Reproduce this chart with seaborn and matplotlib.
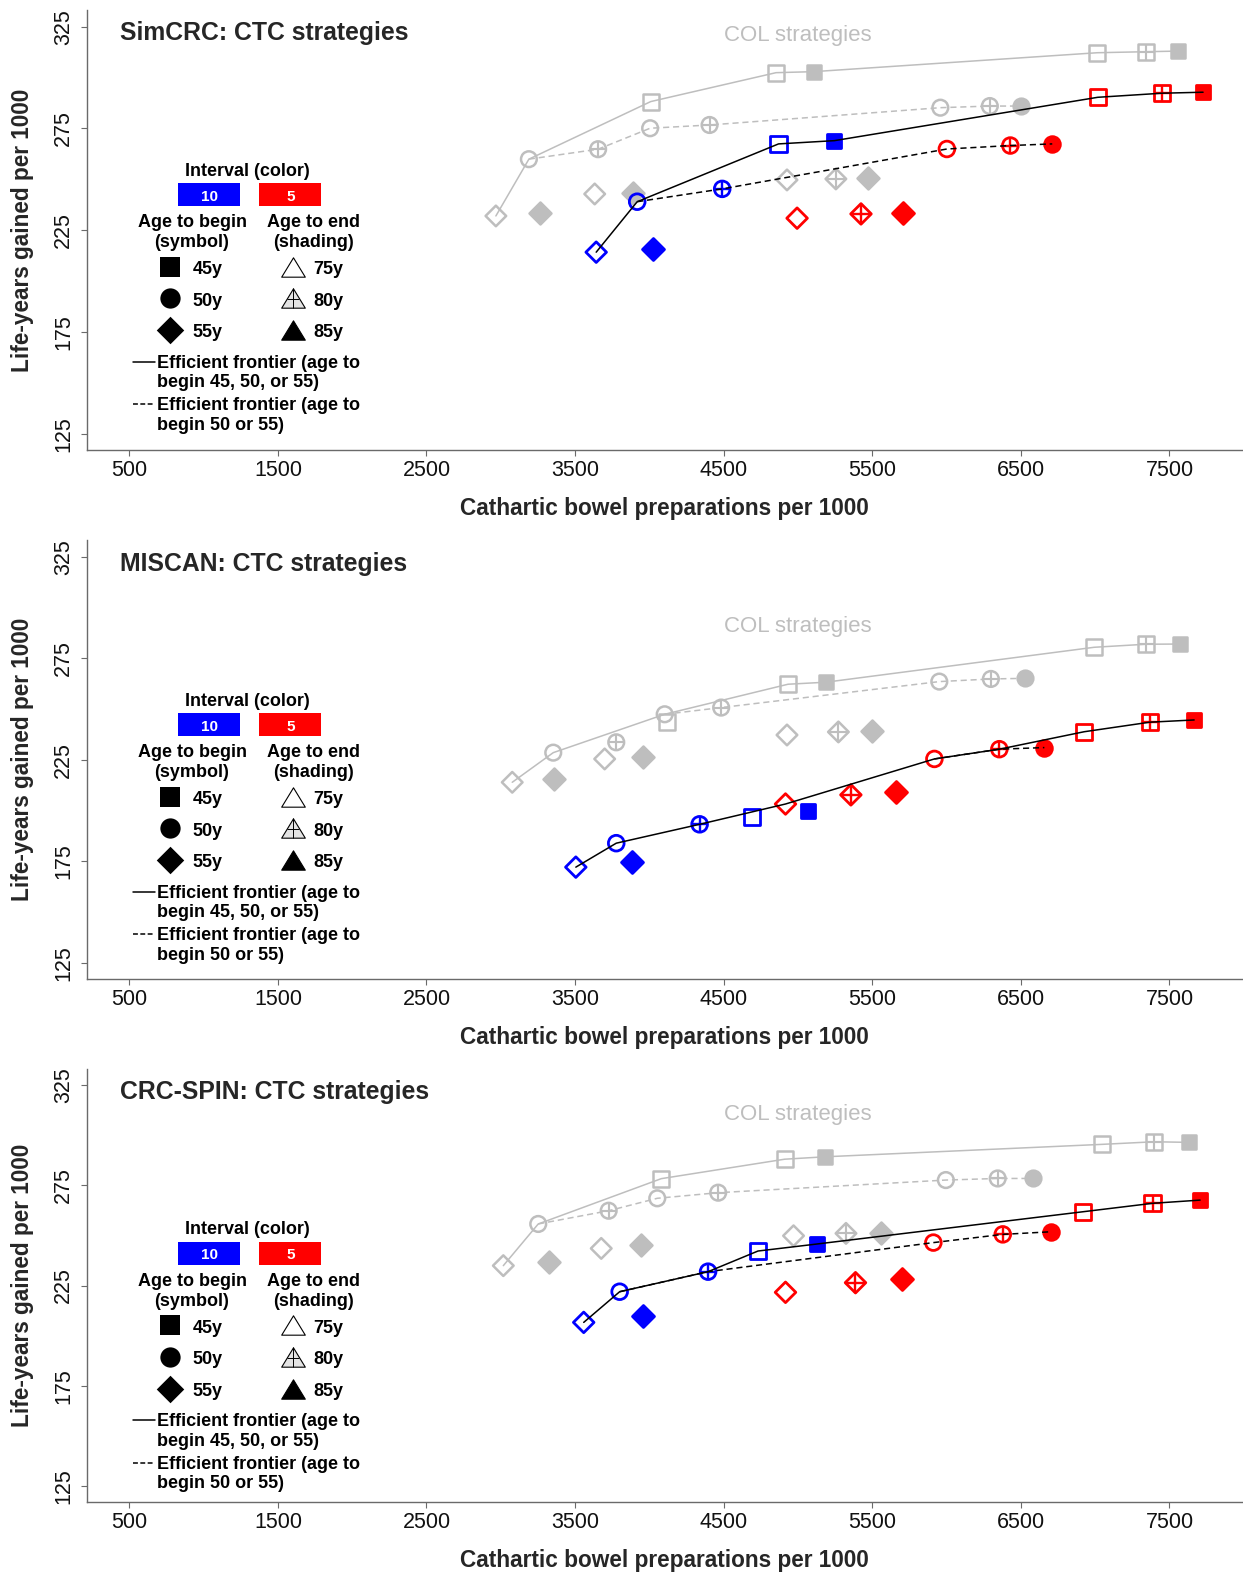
import matplotlib
matplotlib.use("Agg")
import matplotlib.pyplot as plt
from matplotlib.path import Path
from matplotlib.patches import Rectangle
import pandas as pd
import seaborn as sns

# ---------------------------------------------------------------------------
# Strategy definitions (screening interval, age to begin, age to end)
# ---------------------------------------------------------------------------
models = ["SimCRC", "MISCAN", "CRC-SPIN"]

ctc_interval = [10, 10, 10, 10, 10, 10, 5, 5, 5, 5, 5, 5, 5, 5, 5]
ctc_begin = [45, 45, 50, 50, 55, 55, 45, 45, 45, 50, 50, 50, 55, 55, 55]
ctc_end = [75, 85, 75, 80, 75, 85, 75, 80, 85, 75, 80, 85, 75, 80, 85]

col_interval = [15, 15, 15, 15, 15, 10, 10, 10, 10, 10, 10, 5, 5, 5, 5, 5, 5, 5, 5, 5]
col_begin = [45, 50, 50, 55, 55, 45, 45, 50, 50, 55, 55, 45, 45, 45, 50, 50, 50, 55, 55, 55]
col_end = [75, 75, 80, 75, 85, 75, 85, 75, 80, 75, 85, 75, 80, 85, 75, 80, 85, 75, 80, 85]

# ---------------------------------------------------------------------------
# Cathartic bowel preparations per 1000 / life-years gained per 1000
# ---------------------------------------------------------------------------
simcrc_ctc_preps = [4869, 5245, 3918, 4490, 3642, 4026, 7017, 7447, 7726,
                    6002, 6429, 6711, 4994, 5424, 5706]
simcrc_ctc_lyg = [267.4, 269.0, 239.0, 245.3, 214.2, 215.8, 290.3, 292.3, 292.8,
                  264.9, 266.6, 267.4, 230.9, 233.0, 233.6]
simcrc_col_preps = [4009, 3189, 3655, 2967, 3262, 4852, 5105, 4005, 4405, 3632, 3888,
                    7014, 7340, 7555, 5958, 6291, 6503, 4926, 5255, 5471]
simcrc_col_lyg = [288.2, 259.9, 264.8, 232.0, 233.6, 302.4, 302.9, 275.1, 276.7, 242.8, 243.5,
                  312.2, 312.7, 313.0, 285.2, 286.0, 286.0, 249.7, 250.2, 250.5]

miscan_ctc_preps = [4691, 5068, 3777, 4338, 3505, 3881, 6926, 7367, 7666,
                    5918, 6355, 6658, 4916, 5356, 5659]
miscan_ctc_lyg = [197.0, 199.8, 183.9, 193.2, 172.1, 174.8, 238.8, 243.5, 244.6,
                  225.4, 230.2, 231.0, 203.2, 207.7, 209.3]
miscan_col_preps = [4120, 3353, 3777, 3077, 3357, 4933, 5188, 4103, 4483, 3699, 3955,
                    6993, 7340, 7572, 5951, 6298, 6526, 4926, 5272, 5501]
miscan_col_lyg = [243.5, 228.5, 233.6, 213.9, 215.4, 262.2, 263.2, 247.4, 250.7, 225.4, 226.4,
                  280.4, 281.9, 282.0, 263.5, 264.8, 265.1, 237.2, 238.7, 239.2]

crcspin_ctc_preps = [4731, 5128, 3800, 4395, 3558, 3958, 6919, 7386, 7706,
                     5911, 6378, 6701, 4916, 5387, 5700]
crcspin_ctc_lyg = [242.2, 245.7, 221.9, 231.9, 206.6, 209.9, 261.8, 266.0, 267.6,
                   246.4, 250.5, 251.8, 221.6, 226.4, 228.1]
crcspin_col_preps = [4080, 3252, 3726, 3017, 3323, 4910, 5181, 4053, 4463, 3676, 3945,
                     7044, 7397, 7632, 5995, 6344, 6580, 4970, 5323, 5558]
crcspin_col_lyg = [278.3, 255.7, 262.3, 234.9, 236.9, 288.0, 289.2, 268.5, 271.3, 243.5, 245.2,
                   295.4, 296.7, 296.4, 277.6, 278.4, 278.4, 249.8, 251.0, 251.3]

# efficient frontiers (indices into the strategy lists above)
simcrc_ctc_front = [4, 2, 0, 1, 6, 7, 8]
simcrc_ctc_front_50 = [2, 3, 9, 10, 11]
simcrc_col_front = [3, 1, 0, 5, 6, 11, 12, 13]
simcrc_col_front_50 = [1, 2, 7, 8, 14, 15, 16]

miscan_ctc_front = [4, 2, 3, 12, 9, 10, 6, 7, 8]
miscan_ctc_front_50 = [9, 10, 11]
miscan_col_front = [3, 1, 7, 5, 6, 11, 12, 13]
miscan_col_front_50 = [7, 8, 14, 15, 16]

crcspin_ctc_front = [4, 2, 3, 0, 1, 6, 7, 8]
crcspin_ctc_front_50 = [2, 3, 9, 10, 11]
crcspin_col_front = [3, 1, 0, 5, 6, 11, 12, 13]
crcspin_col_front_50 = [1, 2, 7, 8, 14, 15, 16]

# "COL strategies" caption position per panel
col_caption_y = [318.1, 288.1, 307.5]
col_caption_x = 5000

x_ticks = [500, 1500, 2500, 3500, 4500, 5500, 6500, 7500]
y_ticks = [125, 175, 225, 275, 325]

# ---------------------------------------------------------------------------
# Styling
# ---------------------------------------------------------------------------
sns.set_style("ticks")
plt.rcParams["font.family"] = ["Liberation Sans", "DejaVu Sans"]
plt.rcParams["axes.unicode_minus"] = False

W, H, DPI = 1243, 1581, 100
BLUE, RED, GRAY = "#0000FF", "#FF0000", "#BEBEBE"
AX_COLOR = "#6A6A6A"

shape_of = {45: "s", 50: "o", 55: "D"}
open_ms = {"s": 11.6, "o": 11.3, "D": 10.5}
fill_ms = {"s": 10.3, "o": 11.3, "D": 11.2}
plus_ms = {"s": 11.6, "o": 11.3, "D": 14.8}

fig = plt.figure(figsize=(W / DPI, H / DPI), dpi=DPI)

AX_LEFT, AX_RIGHT = 86.5, 1242.0
panel_px = [(10.4, 450.0), (540.5, 979.0), (1069.0, 1502.0)]


def draw_points(ax, df, color, lw, z):
    """Draw strategies: open (end 75), crossed (end 80), filled (end 85)."""
    for shape in ["s", "o", "D"]:
        sub = df[df["shape"] == shape]
        op = sub[sub["end"] != 85]
        if len(op):
            sns.scatterplot(data=op, x="preps", y="lyg", ax=ax, marker=shape,
                            s=open_ms[shape] ** 2, facecolor="none",
                            edgecolor=color, linewidth=lw, zorder=z, legend=False)
        cr = sub[sub["end"] == 80]
        if len(cr):
            sns.scatterplot(data=cr, x="preps", y="lyg", ax=ax, marker="+",
                            s=plus_ms[shape] ** 2, color=color,
                            linewidth=lw * 0.85, zorder=z, legend=False)
        fl = sub[sub["end"] == 85]
        if len(fl):
            sns.scatterplot(data=fl, x="preps", y="lyg", ax=ax, marker=shape,
                            s=fill_ms[shape] ** 2, facecolor=color,
                            edgecolor=color, linewidth=lw, zorder=z, legend=False)


def draw_front(ax, df, idx, color, ls, lw, z):
    f = df.iloc[idx]
    sns.lineplot(x=f["preps"].values, y=f["lyg"].values, ax=ax, sort=False,
                 estimator=None, color=color, linestyle=ls, linewidth=lw,
                 zorder=z, legend=False)


tri_path = Path([(0, 0.82), (-1, -0.82), (1, -0.82), (0, 0.82)],
                [Path.MOVETO, Path.LINETO, Path.LINETO, Path.CLOSEPOLY])
tri_cross = Path([(0, 0.82), (0, -0.82), (-0.5, -0.05), (0.5, -0.05), (1, -0.82)],
                 [Path.MOVETO, Path.LINETO, Path.MOVETO, Path.LINETO, Path.MOVETO])


def draw_key(ax, top, bottom):
    wpx = AX_RIGHT - AX_LEFT
    h = bottom - top
    T = ax.transAxes

    def P(dx, dy):
        return (dx / wpx, 1 - dy / h)

    tk = dict(transform=T, fontsize=13, fontweight="bold", color="black")
    ax.text(*P(161.3, 165.3), "Interval (color)", ha="center", va="baseline", **tk)
    for x0, c, lab in [(91.8, BLUE, "10"), (172.8, RED, "5")]:
        ax.add_patch(Rectangle(P(x0, 195.6), 61.5 / wpx, 22.7 / h, transform=T,
                               facecolor=c, edgecolor="none", zorder=5))
        ax.text(*P(x0 + 31, 190.3), lab, ha="center", va="baseline", transform=T,
                fontsize=11, fontweight="bold", color="white", zorder=6)
    ax.text(*P(105.5, 216.9), "Age to begin", ha="center", va="baseline", **tk)
    ax.text(*P(105.5, 236.8), "(symbol)", ha="center", va="baseline", **tk)
    ax.text(*P(227.3, 216.9), "Age to end", ha="center", va="baseline", **tk)
    ax.text(*P(227.3, 236.8), "(shading)", ha="center", va="baseline", **tk)

    rows = [(256.3, "s", 14.6, "45y", "75y"),
            (287.9, "o", 14.6, "50y", "80y"),
            (319.6, "D", 14.0, "55y", "85y")]
    for i, (dy, m, ms, lb, le) in enumerate(rows):
        x, y = P(83.8, dy)
        ax.scatter([x], [y], transform=T, marker=m, s=ms ** 2, c="black",
                   linewidths=0, zorder=6, clip_on=False)
        ax.text(*P(105.8, dy + 7.3), lb, ha="left", va="baseline", **tk)
        tx, ty = P(206.2, dy)
        if i == 0:
            ax.scatter([tx], [ty], transform=T, marker=tri_path, s=17 ** 2,
                       facecolor="white", edgecolor="black", linewidths=0.8, zorder=6)
        elif i == 1:
            ax.scatter([tx], [ty], transform=T, marker=tri_path, s=17 ** 2,
                       facecolor="#E4E4E4", edgecolor="black", linewidths=0.8, zorder=6)
            ax.scatter([tx], [ty], transform=T, marker=tri_cross, s=17 ** 2,
                       color="black", linewidths=0.7, zorder=7)
        else:
            ax.scatter([tx], [ty], transform=T, marker=tri_path, s=17 ** 2,
                       facecolor="black", edgecolor="black", linewidths=0.8, zorder=6)
        ax.text(*P(226.8, dy + 7.3), le, ha="left", va="baseline", **tk)

    for dy, ls, l1, l2 in [(351.3, "-", "Efficient frontier (age to", "begin 45, 50, or 55)"),
                           (393.6, (0, (3.2, 1.6)), "Efficient frontier (age to",
                            "begin 50 or 55)")]:
        (x1, y1), (x2, _) = P(46.8, dy), P(68.5, dy)
        ax.plot([x1, x2], [y1, y1], transform=T, color="black", lw=1.1,
                linestyle=ls, zorder=6)
        ax.text(*P(70.8, dy + 6.0), l1, ha="left", va="baseline", **tk)
        ax.text(*P(70.8, dy + 25.6), l2, ha="left", va="baseline", **tk)


panels = [
    ("SimCRC", simcrc_ctc_preps, simcrc_ctc_lyg, simcrc_col_preps, simcrc_col_lyg,
     simcrc_ctc_front, simcrc_ctc_front_50, simcrc_col_front, simcrc_col_front_50),
    ("MISCAN", miscan_ctc_preps, miscan_ctc_lyg, miscan_col_preps, miscan_col_lyg,
     miscan_ctc_front, miscan_ctc_front_50, miscan_col_front, miscan_col_front_50),
    ("CRC-SPIN", crcspin_ctc_preps, crcspin_ctc_lyg, crcspin_col_preps, crcspin_col_lyg,
     crcspin_ctc_front, crcspin_ctc_front_50, crcspin_col_front, crcspin_col_front_50),
]

for p, (name, cx, cy, gx, gy, cf, cf50, gf, gf50) in enumerate(panels):
    top, bottom = panel_px[p]
    ax = fig.add_axes([AX_LEFT / W, 1 - bottom / H, (AX_RIGHT - AX_LEFT) / W,
                       (bottom - top) / H])

    ctc = pd.DataFrame({"interval": ctc_interval, "begin": ctc_begin, "end": ctc_end,
                        "preps": cx, "lyg": cy})
    ctc["shape"] = ctc["begin"].map(shape_of)
    col = pd.DataFrame({"interval": col_interval, "begin": col_begin, "end": col_end,
                        "preps": gx, "lyg": gy})
    col["shape"] = col["begin"].map(shape_of)

    # colonoscopy strategies in the background
    draw_front(ax, col, gf, GRAY, "-", 1.1, 1)
    draw_front(ax, col, gf50, GRAY, (0, (4, 2.5)), 1.1, 1)
    draw_points(ax, col, GRAY, 1.8, 2)

    # CT colonography strategies, colored by interval
    draw_points(ax, ctc[ctc["interval"] == 10], BLUE, 2.0, 3)
    draw_points(ax, ctc[ctc["interval"] == 5], RED, 2.0, 3)
    draw_front(ax, ctc, cf50, "black", (0, (4, 2.5)), 1.1, 4)
    draw_front(ax, ctc, cf, "black", "-", 1.1, 4)

    ax.text(col_caption_x, col_caption_y[p], "COL strategies", ha="center",
            va="baseline", fontsize=16, color=GRAY)

    # axes
    ax.set_xlim(212, 7988)
    ax.set_ylim(117, 333)
    ax.set_xticks(x_ticks)
    ax.set_yticks(y_ticks)
    ax.set_xticklabels([str(v) for v in x_ticks])
    ax.set_yticklabels([str(v) for v in y_ticks])
    sns.despine(ax=ax)
    for s in ["left", "bottom"]:
        ax.spines[s].set_color(AX_COLOR)
        ax.spines[s].set_linewidth(1.0)
    ax.tick_params(axis="both", direction="out", length=4.3, width=0.8,
                   color=AX_COLOR, labelsize=15.5, labelcolor="#111111")
    ax.tick_params(axis="x", pad=3)
    ax.tick_params(axis="y", pad=4.5)
    for lab in ax.get_yticklabels():
        lab.set_rotation(90)
        lab.set_va("center")

    h = bottom - top
    wpx = AX_RIGHT - AX_LEFT
    ax.set_xlabel("Cathartic bowel preparations per 1000", fontsize=16.3,
                  fontweight="bold")
    ax.xaxis.set_label_coords(0.5, -(497 - 450) / h)
    ax.set_ylabel("Life-years gained per 1000", fontsize=16.3, fontweight="bold")
    ax.yaxis.set_label_coords(-(AX_LEFT - 34) / wpx, 0.5)

    ax.text(33.5 / wpx, 1 - 30 / h, f"{name}: CTC strategies", transform=ax.transAxes,
            ha="left", va="baseline", fontsize=17.8, fontweight="bold")

    draw_key(ax, top, bottom)

fig.savefig("out.png", dpi=DPI)
